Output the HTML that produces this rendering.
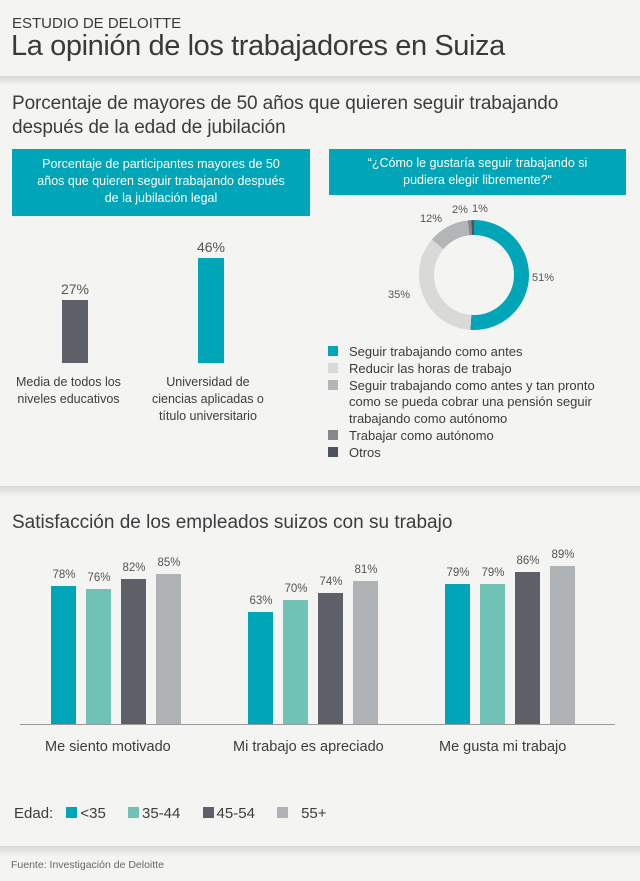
<!DOCTYPE html>
<html><head><meta charset="utf-8"><style>
body{margin:0;width:640px;height:881px;background:#f4f4f2;font-family:"Liberation Sans",sans-serif;color:#3c3c3c;position:relative;overflow:hidden}
.a{position:absolute;white-space:nowrap}
.box{position:absolute;background:#00a5b8;color:#fff;text-align:center;font-size:12.5px;line-height:17px}
.sh{position:absolute;left:0;width:640px;height:10px;background:linear-gradient(#d8d8d6,#f4f4f2)}
.bar{position:absolute}
.v{position:absolute;font-size:11.5px;color:#555;text-align:center;width:40px}
</style></head><body>
<div class="a" style="left:12px;top:15px;font-size:15px;color:#3a3a3a">ESTUDIO DE DELOITTE</div>
<div class="a" style="left:11px;top:30px;font-size:29px;color:#3a3a3a;letter-spacing:-0.4px">La opinión de los trabajadores en Suiza</div>
<div class="sh" style="top:76px"></div>
<div class="a" style="left:12px;top:92px;font-size:19px;line-height:24px;color:#3c3c3c;letter-spacing:-0.1px">Porcentaje de mayores de 50 años que quieren seguir trabajando<br>después de la edad de jubilación</div>
<div class="box" style="left:12px;top:149px;width:298px;height:67px;padding-top:7px;box-sizing:border-box">Porcentaje de participantes mayores de 50<br>años que quieren seguir trabajando después<br>de la jubilación legal</div>
<div class="box" style="left:329px;top:149px;width:297px;height:46px;padding-top:6px;box-sizing:border-box">“¿Cómo le gustaría seguir trabajando si<br>pudiera elegir libremente?“</div>
<div class="bar" style="left:62px;top:300px;width:26px;height:63px;background:#5d6068"></div>
<div class="bar" style="left:198px;top:258px;width:26px;height:105px;background:#00a5b8"></div>
<div class="v" style="left:55px;top:281px;font-size:14px;width:40px">27%</div>
<div class="v" style="left:191px;top:239px;font-size:14px;width:40px">46%</div>
<div class="a" style="left:16px;top:374px;font-size:12.5px;line-height:17px;text-align:center">Media de todos los<br>niveles educativos</div>
<div class="a" style="left:152px;top:374px;font-size:12.5px;line-height:17px;text-align:center">Universidad de<br>ciencias aplicadas o<br>título universitario</div>
<svg class="a" style="left:0;top:0" width="640" height="881">
<g transform="translate(474,275) rotate(-90)" fill="none" stroke-width="15">
<circle r="47.5" stroke="#00a5b8" stroke-dasharray="152.2 298.5"/>
<circle r="47.5" stroke="#d9d9d8" stroke-dasharray="0 152.2 104.5 298.5"/>
<circle r="47.5" stroke="#b3b6b7" stroke-dasharray="0 256.7 35.8 298.5"/>
<circle r="47.5" stroke="#85888d" stroke-dasharray="0 292.5 3 298.5"/>
<circle r="47.5" stroke="#4f545c" stroke-dasharray="0 295.5 3 298.5"/>
</g>
<line x1="20" y1="724.5" x2="615" y2="724.5" stroke="#999" stroke-width="1"/>
</svg>
<div class="a" style="left:532px;top:272px;font-size:11px;color:#555">51%</div>
<div class="a" style="left:388px;top:289px;font-size:11px;color:#555">35%</div>
<div class="a" style="left:420px;top:213px;font-size:11px;color:#555">12%</div>
<div class="a" style="left:452px;top:204px;font-size:11px;color:#555">2%</div>
<div class="a" style="left:472px;top:203px;font-size:11px;color:#555">1%</div>
<div class="a" style="left:328px;top:344px;font-size:13px;line-height:16.8px">
<div><span style="display:inline-block;width:10px;height:10px;background:#00a5b8;margin-right:11px"></span>Seguir trabajando como antes</div>
<div><span style="display:inline-block;width:10px;height:10px;background:#d9d9d8;margin-right:11px"></span>Reducir las horas de trabajo</div>
<div><span style="display:inline-block;width:10px;height:10px;background:#b3b6b7;margin-right:11px"></span>Seguir trabajando como antes y tan pronto</div>
<div style="padding-left:21px">como se pueda cobrar una pensión seguir<br>trabajando como autónomo</div>
<div><span style="display:inline-block;width:10px;height:10px;background:#85888d;margin-right:11px"></span>Trabajar como autónomo</div>
<div><span style="display:inline-block;width:10px;height:10px;background:#4f545c;margin-right:11px"></span>Otros</div>
</div>
<div class="sh" style="top:486px"></div>
<div class="a" style="left:12px;top:512px;font-size:19px">Satisfacción de los empleados suizos con su trabajo</div>
<div id="bars"></div>
<script>
var g=[[51,[78,76,82,85]],[248,[63,70,74,81]],[445,[79,79,86,89]]];
var c=["#00a5b8","#6fc2b4","#5d6068","#b0b3b5"];var h="";
g.forEach(function(q){q[1].forEach(function(v,i){var x=q[0]+i*35,ht=v*1.77;
h+='<div class="bar" style="left:'+x+'px;top:'+(724-ht)+'px;width:25px;height:'+ht+'px;background:'+c[i]+'"></div>';
h+='<div class="v" style="left:'+(x-7)+'px;top:'+(724-ht-17)+'px">'+v+'%</div>';});});
document.getElementById('bars').innerHTML=h;
</script>
<div class="a" style="left:45px;top:739px;font-size:14.5px">Me siento motivado</div>
<div class="a" style="left:233px;top:739px;font-size:14.5px">Mi trabajo es apreciado</div>
<div class="a" style="left:439px;top:739px;font-size:14.5px">Me gusta mi trabajo</div>
<div class="a" style="left:14px;top:805px;font-size:15px">Edad:
<span style="display:inline-block;width:11px;height:11px;background:#00a5b8;margin:0 3px 0 9px"></span>&lt;35
<span style="display:inline-block;width:11px;height:11px;background:#6fc2b4;margin:0 3px 0 18px"></span>35-44
<span style="display:inline-block;width:11px;height:11px;background:#5d6068;margin:0 3px 0 18px"></span>45-54
<span style="display:inline-block;width:11px;height:11px;background:#b0b3b5;margin:0 13px 0 18px"></span>55+</div>
<div class="sh" style="top:846px"></div>
<div class="a" style="left:11px;top:859px;font-size:10.5px;color:#666">Fuente: Investigación de Deloitte</div>
</body></html>
